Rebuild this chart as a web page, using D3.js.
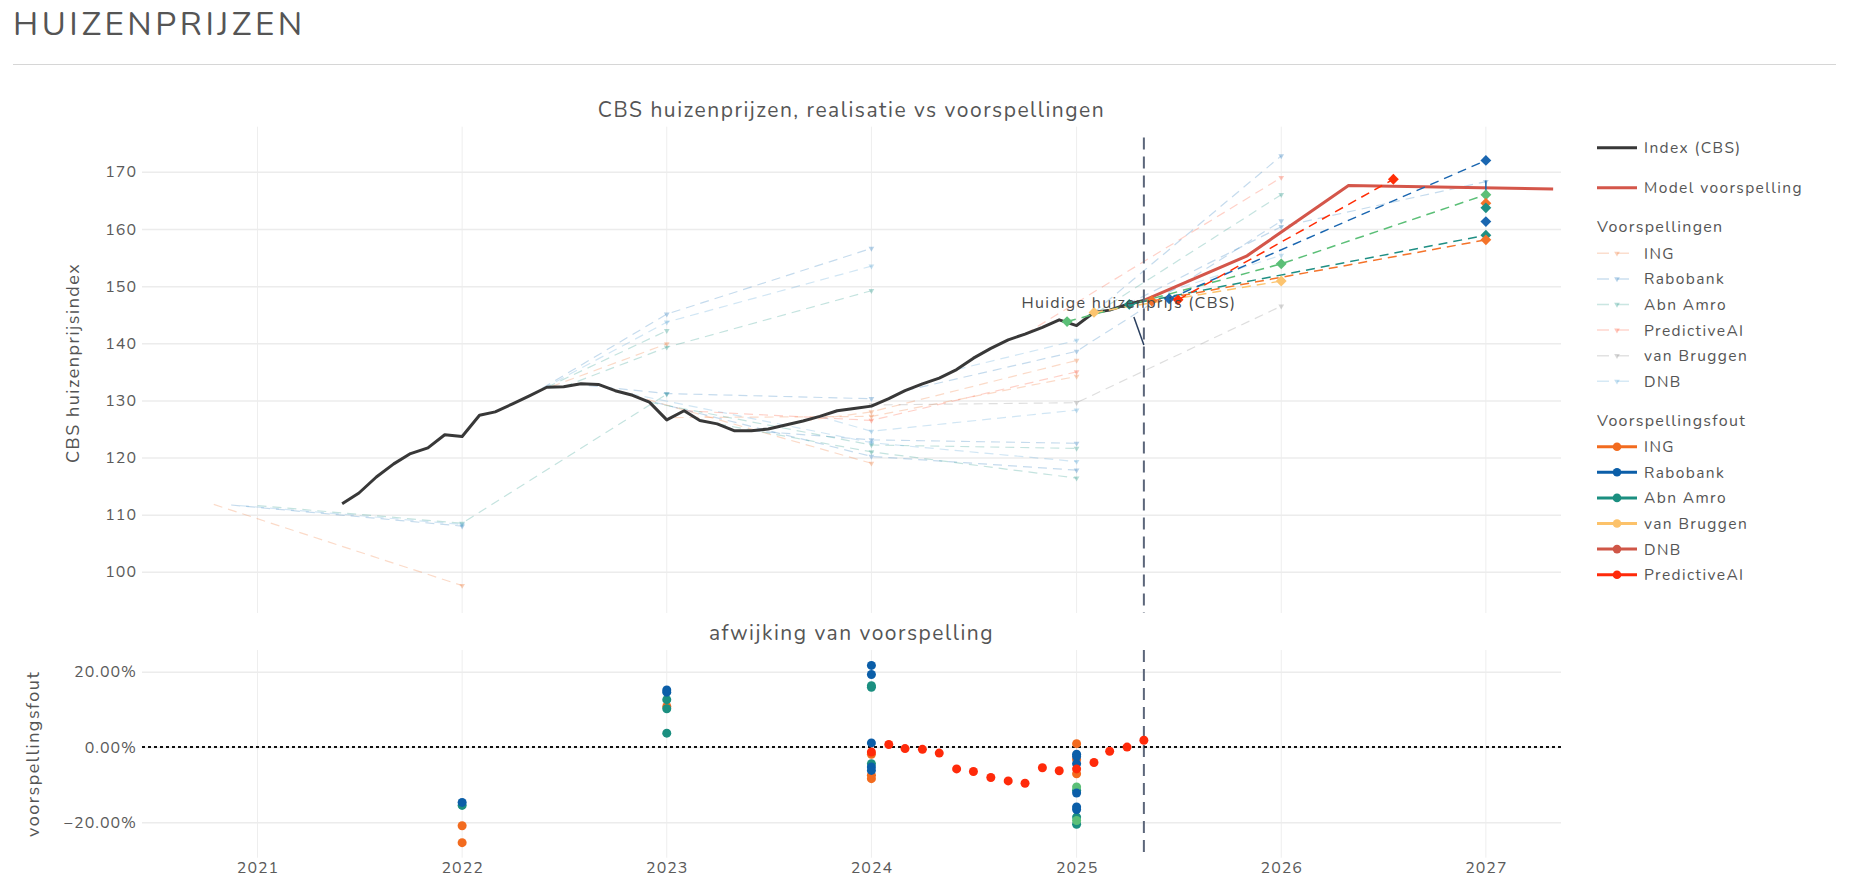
<!DOCTYPE html>
<html>
<head>
<meta charset="utf-8">
<script src="https://cdn.jsdelivr.net/npm/d3@7"></script>
<style>
  body { margin: 0; background: #fff; font-family: Nunito, Lato, sans-serif; }
  svg text { fill: #555; font-family: Nunito, Lato, sans-serif; }
</style>
</head>
<body>
<svg id="chart" width="1849" height="879"></svg>
<script>
// ---- data -------------------------------------------------------------
const cbsDates = [
  '2021-06-01','2021-07-01','2021-08-01','2021-09-01','2021-10-01','2021-11-01','2021-12-01',
  '2022-01-01','2022-02-01','2022-03-01','2022-04-01','2022-05-01','2022-06-01','2022-07-01',
  '2022-08-01','2022-09-01','2022-10-01','2022-11-01','2022-12-01','2023-01-01','2023-02-01',
  '2023-03-01','2023-04-01','2023-05-01','2023-06-01','2023-07-01','2023-08-01','2023-09-01',
  '2023-10-01','2023-11-01','2023-12-01','2024-01-01','2024-02-01','2024-03-01','2024-04-01',
  '2024-05-01','2024-06-01','2024-07-01','2024-08-01','2024-09-01','2024-10-01','2024-11-01',
  '2024-12-01','2025-01-01','2025-02-01','2025-03-01','2025-04-01','2025-05-01'];
const cbsValues = [
  111.9,113.8,116.6,118.9,120.7,121.7,124.0,
  123.7,127.4,128.0,129.4,130.8,132.3,132.4,
  132.9,132.8,131.7,130.9,129.7,126.6,128.2,
  126.5,125.9,124.7,124.7,125.0,125.7,126.4,
  127.2,128.2,128.6,129.0,130.3,131.7,132.9,
  133.9,135.4,137.4,139.1,140.6,141.6,142.8,
  144.1,143.1,145.4,145.8,146.8,147.5];

const modelDates = ['2025-05-01','2025-11-01','2026-05-01','2027-05-01'];
const modelValues = [147.5,155.3,167.6,167.0];

const banks = ['ING','Rabobank','Abn Amro','PredictiveAI','van Bruggen','DNB'];
const bankFaint = {
  'ING':'#f07a3a', 'Rabobank':'#2f7fc0', 'Abn Amro':'#2a9a8c',
  'PredictiveAI':'#ff5a3a', 'van Bruggen':'#8a8a8a', 'DNB':'#5aa6d6'
};

// older forecasts (faint): bank, forecast dates, forecast values
const oldForecasts = [
  ['ING',          ['2020-10-15','2022-01-01'],                           [111.8, 97.6]],
  ['ING',          ['2022-05-15','2023-01-01'],                           [131.5,139.9]],
  ['ING',          ['2022-11-01','2024-01-01'],                           [130.9,119.0]],
  ['ING',          ['2023-01-15','2024-01-01','2025-01-01'],              [127.0,127.2,134.2]],
  ['ING',          ['2023-09-01','2024-01-01','2025-01-01'],              [126.4,128.0,137.0]],
  ['Rabobank',     ['2020-11-15','2022-01-01'],                           [111.7,108.0]],
  ['Rabobank',     ['2022-05-01','2023-01-01','2024-01-01'],              [130.8,145.1,156.6]],
  ['Rabobank',     ['2022-08-15','2023-01-01','2024-01-01'],              [132.6,131.2,130.3]],
  ['Rabobank',     ['2022-11-15','2024-01-01','2025-01-01'],              [130.3,120.2,117.8]],
  ['Rabobank',     ['2023-06-01','2024-01-01','2025-01-01'],              [124.7,123.1,122.5]],
  ['Rabobank',     ['2024-03-01','2025-01-01','2026-01-01'],              [131.7,138.6,161.4]],
  ['Rabobank',     ['2025-02-01','2026-01-01'],                           [145.4,172.8]],
  ['Rabobank',     ['2025-04-01','2026-01-01','2027-01-01'],              [146.8,160.4,168.3]],
  ['Abn Amro',     ['2021-01-01','2022-01-01','2023-01-01'],              [111.6,108.5,131.1]],
  ['Abn Amro',     ['2022-06-01','2023-01-01'],                           [132.3,142.2]],
  ['Abn Amro',     ['2022-07-01','2023-01-01','2024-01-01'],              [132.4,139.3,149.2]],
  ['Abn Amro',     ['2022-12-01','2024-01-01','2025-01-01'],              [129.7,122.2,121.6]],
  ['Abn Amro',     ['2023-04-01','2024-01-01','2025-01-01'],              [125.9,121.0,116.4]],
  ['Abn Amro',     ['2025-01-15','2026-01-01'],                           [144.0,166.0]],
  ['DNB',          ['2020-12-01','2022-01-01'],                           [111.6,108.3]],
  ['DNB',          ['2022-05-01','2023-01-01','2024-01-01'],              [130.8,143.7,153.5]],
  ['DNB',          ['2022-10-01','2024-01-01','2025-01-01'],              [131.7,122.6,119.3]],
  ['DNB',          ['2023-10-01','2024-01-01','2025-01-01'],              [127.2,124.6,128.3]],
  ['DNB',          ['2024-06-01','2025-01-01'],                           [135.4,140.5]],
  ['DNB',          ['2025-03-01','2026-01-01'],                           [145.8,155.4]],
  ['van Bruggen',  ['2023-12-01','2024-01-01','2025-01-01','2026-01-01'], [128.6,129.2,129.6,146.5]],
  ['PredictiveAI', ['2023-02-01','2024-01-01','2025-01-01'],              [128.2,126.5,135.0]],
  ['PredictiveAI', ['2024-10-01','2026-01-01'],                           [141.6,169.0]]
];

// latest forecasts (bold dashed with diamonds)
const latestForecasts = [
  ['#5bbf77', ['2024-12-15','2026-01-01','2027-01-01'], [143.8,153.9,166.0]],
  ['#fcc46f', ['2025-02-01','2026-01-01'],              [145.4,150.9]],
  ['#1f8f84', ['2025-04-05','2027-01-01'],              [146.8,158.9]],
  ['#f4732a', ['2025-05-15','2027-01-01'],              [147.4,158.1]],
  ['#1a66b0', ['2025-06-15','2027-01-01'],              [147.8,172.0]],
  ['#ff2d06', ['2025-07-01','2026-07-20'],              [147.6,168.7]]
];
const extraDiamondColors = ['#f4732a','#1f8f84','#1a66b0'];
const extraDiamondValues = [164.5,163.7,161.3];

// forecast errors (%), by bank
const errING      = [['2022-01-01',-20.9],['2022-01-01',-25.4],['2023-01-01',10.8],['2024-01-01',-1.9],
                     ['2024-01-01',-7.5],['2024-01-01',-8.4],['2025-01-01',0.9],['2025-01-01',-3.3],['2025-01-01',-7.1]];
const errRabobank = [['2022-01-01',-14.7],['2023-01-01',15.2],['2023-01-01',14.6],['2024-01-01',21.7],
                     ['2024-01-01',19.3],['2024-01-01',1.1],['2024-01-01',-5.3],['2024-01-01',-6.2],
                     ['2025-01-01',-1.9],['2025-01-01',-2.5],['2025-01-01',-4.4],['2025-01-01',-12.2],
                     ['2025-01-01',-15.9],['2025-01-01',-16.6]];
const errAbnAmro  = [['2022-01-01',-15.5],['2023-01-01',12.6],['2023-01-01',10.2],['2023-01-01',3.7],
                     ['2024-01-01',15.9],['2024-01-01',16.3],['2024-01-01',-4.4],['2025-01-01',-11.5],
                     ['2025-01-01',-18.6],['2025-01-01',-20.5]];
const errGreen    = [['2025-01-01',-10.6],['2025-01-01',-19.5]];
const errPredictiveAI = [
  ['2024-01-01',-1.3],['2024-02-01',0.7],['2024-03-01',-0.4],['2024-04-01',-0.6],['2024-05-01',-1.6],
  ['2024-06-01',-5.8],['2024-07-01',-6.5],['2024-08-01',-8.1],['2024-09-01',-9.0],['2024-10-01',-9.6],
  ['2024-11-01',-5.5],['2024-12-01',-6.3],['2025-01-01',-5.8],['2025-02-01',-4.1],['2025-03-01',-1.1],
  ['2025-04-01',0.0],['2025-05-01',1.8]];

const errorColors = {ING:'#f26b1f', Rabobank:'#0b5ea8', 'Abn Amro':'#1b8f80',
                     'van Bruggen':'#fcc26a', DNB:'#cf5647', PredictiveAI:'#ff2a0a'};

const yearTicks = ['2021-01-01','2022-01-01','2023-01-01','2024-01-01','2025-01-01','2026-01-01','2027-01-01'];
const topTicks = [100,110,120,130,140,150,160,170];
const bottomTicks = [-20,0,20];
const nowDate = '2025-05-01';

// ---- layout -----------------------------------------------------------
const P = {left:142, right:1561, top1:126.7, bot1:613, top2:650, bot2:857.7};
const parse = s => new Date(s + 'T00:00:00Z');

const svg = d3.select('#chart');

const x = d3.scaleUtc().domain([parse('2020-06-09'), parse('2027-05-15')]).range([P.left, P.right]);
const y1 = d3.scaleLinear().domain([92.8, 177.9]).range([P.bot1, P.top1]);
const y2 = d3.scaleLinear().domain([-29.4, 25.8]).range([P.bot2, P.top2]);

// header
svg.append('text').attr('x', 13).attr('y', 34.5)
  .style('font-size','33px').style('letter-spacing','3.6px').style('fill','#555')
  .text('HUIZENPRIJZEN');
svg.append('line').attr('x1',13).attr('x2',1836).attr('y1',64.5).attr('y2',64.5)
  .attr('stroke','#d6d6d6');

const defs = svg.append('defs');
defs.append('clipPath').attr('id','clip1').append('rect')
  .attr('x',P.left).attr('y',P.top1).attr('width',P.right-P.left).attr('height',P.bot1-P.top1);
defs.append('clipPath').attr('id','clip2').append('rect')
  .attr('x',P.left).attr('y',P.top2).attr('width',P.right-P.left).attr('height',P.bot2-P.top2);

function grid(yScale, ticks, top, bot, fmt){
  const g = svg.append('g');
  g.selectAll('line.v').data(yearTicks).join('line')
    .attr('x1', d => x(parse(d))).attr('x2', d => x(parse(d)))
    .attr('y1', top).attr('y2', bot).attr('stroke','#eeeeee');
  const ax = svg.append('g').attr('transform',`translate(${P.left},0)`)
    .call(d3.axisLeft(yScale).tickValues(ticks).tickSize(-(P.right-P.left)).tickPadding(5).tickFormat(fmt));
  ax.select('.domain').remove();
  ax.selectAll('.tick line').attr('stroke','#ececec').attr('stroke-width',1.5);
  ax.selectAll('.tick text').style('font-size','16px').style('letter-spacing','1px')
    .style('fill','#5a5a5a').attr('font-family',null);
}
grid(y1, topTicks, P.top1, P.bot1, d3.format('d'));
grid(y2, bottomTicks, P.top2, P.bot2, d => d3.format('.2%')(d/100));

// x axis labels (bottom plot only)
const xa = svg.append('g').attr('transform',`translate(0,${P.bot2})`)
  .call(d3.axisBottom(x).tickValues(yearTicks.map(parse)).tickSize(0).tickPadding(4).tickFormat(d3.utcFormat('%Y')));
xa.select('.domain').remove();
xa.selectAll('.tick text').style('font-size','16px').style('letter-spacing','1px')
  .style('fill','#5a5a5a').attr('font-family',null);

// titles
svg.append('text').attr('x',(P.left+P.right)/2).attr('y',110).attr('text-anchor','middle')
  .attr('dominant-baseline','central').style('font-size','21px').style('letter-spacing','1.5px')
  .text('CBS huizenprijzen, realisatie vs voorspellingen');
svg.append('text').attr('x',(P.left+P.right)/2).attr('y',633).attr('text-anchor','middle')
  .attr('dominant-baseline','central').style('font-size','21px').style('letter-spacing','1.5px')
  .text('afwijking van voorspelling');
svg.append('text').attr('transform',`translate(73,${(P.top1+P.bot1)/2 - 7}) rotate(-90)`)
  .attr('text-anchor','middle').attr('dominant-baseline','central')
  .style('font-size','18px').style('letter-spacing','1.5px').text('CBS huizenprijsindex');
svg.append('text').attr('transform',`translate(33,${(P.top2+P.bot2)/2}) rotate(-90)`)
  .attr('text-anchor','middle').attr('dominant-baseline','central')
  .style('font-size','18px').style('letter-spacing','1.5px').text('voorspellingsfout');

// ---- top plot ---------------------------------------------------------
const gTop = svg.append('g').attr('clip-path','url(#clip1)');
const line1 = d3.line().x(d => x(d[0])).y(d => y1(d[1]));
const zipDates = (ds, vs) => ds.map((d,i) => [parse(d), vs[i]]);
const tri = d3.symbol().type(d3.symbolTriangle).size(14);
const diamond = d3.symbol().type(d3.symbolDiamond2).size(75);

// faint historical forecasts
oldForecasts.forEach(([bank, ds, vs]) => {
  const pts = zipDates(ds, vs);
  gTop.append('path').attr('d', line1(pts)).attr('fill','none')
    .attr('stroke', bankFaint[bank]).attr('stroke-opacity',0.28).attr('stroke-width',1.2)
    .attr('stroke-dasharray','9,6');
  gTop.selectAll(null).data(pts.slice(1)).join('path')
    .attr('transform', d => `translate(${x(d[0])},${y1(d[1])}) rotate(180)`)
    .attr('d', tri).attr('fill', bankFaint[bank]).attr('fill-opacity',0.35);
});

// vertical "now" line
const xNow = x(parse(nowDate));
svg.append('line').attr('x1',xNow).attr('x2',xNow).attr('y1',y1(176)).attr('y2',P.bot1)
  .attr('stroke','#5c667a').attr('stroke-width',2).attr('stroke-dasharray','12,7');
svg.append('line').attr('x1',xNow).attr('x2',xNow).attr('y1',P.top2).attr('y2',P.bot2)
  .attr('stroke','#5c667a').attr('stroke-width',2).attr('stroke-dasharray','12,7');

// CBS index
gTop.append('path').attr('d', line1(zipDates(cbsDates, cbsValues))).attr('fill','none')
  .attr('stroke','#383838').attr('stroke-width',3).attr('stroke-linejoin','round');

// model forecast
gTop.append('path').attr('d', line1(zipDates(modelDates, modelValues))).attr('fill','none')
  .attr('stroke','#d4564a').attr('stroke-width',3);

// latest forecasts
latestForecasts.forEach(([color, ds, vs]) => {
  const pts = zipDates(ds, vs);
  gTop.append('path').attr('d', line1(pts)).attr('fill','none')
    .attr('stroke', color).attr('stroke-width',1.5).attr('stroke-dasharray','9,6');
});
const x2027 = x(parse('2027-01-01'));
gTop.append('line').attr('x1',x2027).attr('x2',x2027).attr('y1',y1(168.5)).attr('y2',y1(164))
  .attr('stroke','#1a66b0').attr('stroke-width',1.5);
latestForecasts.forEach(([color, ds, vs]) => {
  gTop.selectAll(null).data(zipDates(ds, vs)).join('path')
    .attr('transform', d => `translate(${x(d[0])},${y1(d[1])})`)
    .attr('d', diamond).attr('fill', color);
});
gTop.selectAll(null).data(extraDiamondValues).join('path')
  .attr('transform', d => `translate(${x2027},${y1(d)})`)
  .attr('d', diamond).attr('fill', (d,i) => extraDiamondColors[i]);

// annotation
svg.append('text').attr('x', xNow - 15).attr('y', y1(147.0)).attr('text-anchor','middle')
  .attr('dominant-baseline','central').style('font-size','16px').style('letter-spacing','1.3px')
  .style('fill','#4a4a4a').text('Huidige huizenprijs (CBS)');
svg.append('line').attr('x1', xNow - 10).attr('y1', y1(144.6)).attr('x2', xNow).attr('y2', y1(139.7))
  .attr('stroke','#2a3f5f').attr('stroke-width',1.5);

// ---- bottom plot ------------------------------------------------------
const gBot = svg.append('g').attr('clip-path','url(#clip2)');
gBot.append('line').attr('x1',P.left).attr('x2',P.right).attr('y1',y2(0)).attr('y2',y2(0))
  .attr('stroke','#111').attr('stroke-width',2).attr('stroke-dasharray','3,3');

const errSets = [[errING, errorColors.ING], [errAbnAmro, errorColors['Abn Amro']],
                 [errGreen, '#5bbf77'], [errRabobank, errorColors.Rabobank],
                 [errPredictiveAI, errorColors.PredictiveAI]];
errSets.forEach(([arr, color]) => {
  gBot.selectAll(null).data(arr).join('circle')
    .attr('cx', d => x(parse(d[0]))).attr('cy', d => y2(d[1])).attr('r', 4.5).attr('fill', color);
});

// ---- legend -----------------------------------------------------------
const L = {x1:1597, x2:1637, tx:1644, step:25.6};
const lg = svg.append('g');
function legendText(yy, label){
  lg.append('text').attr('x', L.tx).attr('y', yy).attr('dominant-baseline','central')
    .style('font-size','15.5px').style('letter-spacing','1.4px').text(label);
}
function legendTitle(yy, label){
  lg.append('text').attr('x', L.x1).attr('y', yy).attr('dominant-baseline','central')
    .style('font-size','16px').style('letter-spacing','1.3px').text(label);
}
lg.append('line').attr('x1',L.x1).attr('x2',L.x2).attr('y1',147.7).attr('y2',147.7)
  .attr('stroke','#383838').attr('stroke-width',3);
legendText(147.7, 'Index (CBS)');
lg.append('line').attr('x1',L.x1).attr('x2',L.x2).attr('y1',187.7).attr('y2',187.7)
  .attr('stroke','#d4564a').attr('stroke-width',3);
legendText(187.7, 'Model voorspelling');

legendTitle(227.3, 'Voorspellingen');
banks.forEach((b, i) => {
  const yy = 253.3 + i * L.step;
  lg.append('line').attr('x1',L.x1).attr('x2',L.x2).attr('y1',yy).attr('y2',yy)
    .attr('stroke', bankFaint[b]).attr('stroke-opacity',0.25).attr('stroke-width',1.5)
    .attr('stroke-dasharray','12,8');
  lg.append('path').attr('transform',`translate(${(L.x1+L.x2)/2},${yy}) rotate(180)`)
    .attr('d', tri).attr('fill', bankFaint[b]).attr('fill-opacity',0.35);
  legendText(yy, b);
});

const errLegend = ['ING','Rabobank','Abn Amro','van Bruggen','DNB','PredictiveAI'];
legendTitle(421, 'Voorspellingsfout');
errLegend.forEach((b, i) => {
  const yy = 446.7 + i * L.step;
  lg.append('line').attr('x1',L.x1).attr('x2',L.x2).attr('y1',yy).attr('y2',yy)
    .attr('stroke', errorColors[b]).attr('stroke-width',3);
  lg.append('circle').attr('cx',(L.x1+L.x2)/2).attr('cy',yy).attr('r',4.3).attr('fill', errorColors[b]);
  legendText(yy, b);
});
</script>
</body>
</html>
